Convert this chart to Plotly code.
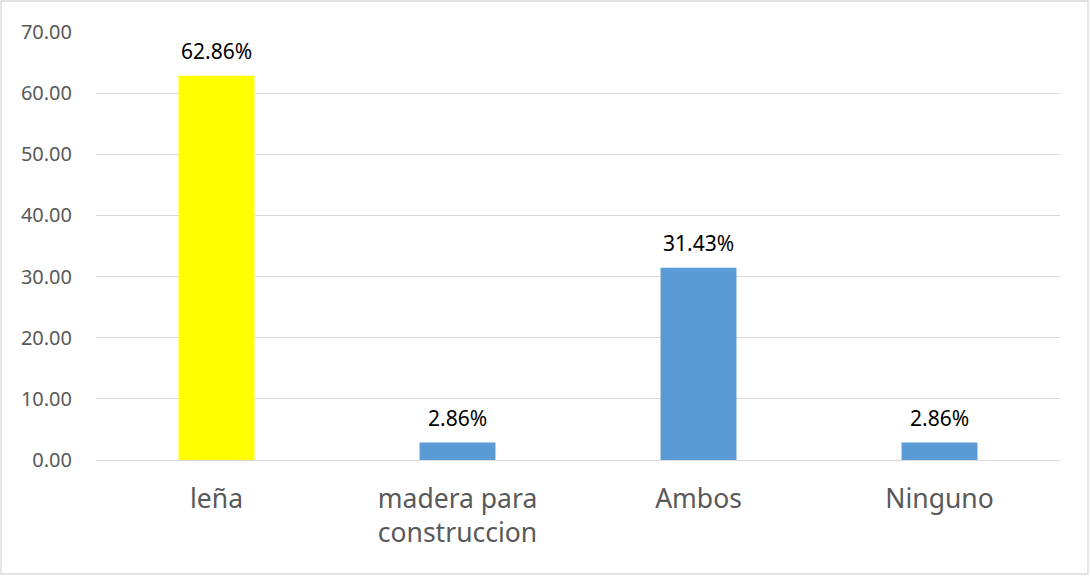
import plotly.graph_objects as go

categories = ["leña", "madera para<br>construccion", "Ambos", "Ninguno"]
values = [62.86, 2.86, 31.43, 2.86]
bar_colors = ["#FFFF00", "#5B9BD5", "#5B9BD5", "#5B9BD5"]
y_ticks = [0, 10, 20, 30, 40, 50, 60, 70]

W, H = 1090, 576
ml, mr, mt, mb = 96, 30, 32, 116
pw, ph = W - ml - mr, H - mt - mb

fig = go.Figure(go.Bar(
    x=categories, y=values,
    marker=dict(color=bar_colors, line=dict(width=0)),
    cliponaxis=False,
    width=0.315,
    hoverinfo="x+y",
))

for c, v in zip(categories, values):
    fig.add_annotation(
        x=c, y=v, text=f"{v:.2f}%", showarrow=False,
        yanchor="bottom", yshift=9,
        font=dict(size=21, color="#000000", family="Noto Sans"),
    )

fig.update_layout(
    width=W, height=H,
    margin=dict(l=ml, r=mr, t=mt, b=mb),
    paper_bgcolor="white", plot_bgcolor="white",
    showlegend=False,
    font=dict(family="Noto Sans", color="#595959"),
    xaxis=dict(
        tickfont=dict(size=26.5, color="#595959"),
        showline=False, showgrid=False,
        ticks="outside", ticklen=15, tickcolor="rgba(0,0,0,0)",
    ),
    yaxis=dict(
        range=[0, 70], tickvals=y_ticks, tickformat=".2f",
        tickfont=dict(size=20, color="#595959"),
        showgrid=True, gridcolor="#D9D9D9", gridwidth=1.3,
        zeroline=True, zerolinecolor="#D9D9D9", zerolinewidth=1.3,
        ticks="outside", ticklen=19, tickcolor="rgba(0,0,0,0)",
    ),
    shapes=[dict(
        type="rect", xref="paper", yref="paper",
        x0=(1 - ml) / pw, x1=(W - 2 - ml) / pw,
        y0=(H - mb - (H - 2)) / ph, y1=(H - mb - 1) / ph,
        line=dict(color="#D9D9D9", width=1.3), fillcolor="rgba(0,0,0,0)",
        layer="below",
    )],
)

fig.write_html(
    "out.html",
    config={"displayModeBar": False},
    post_script="document.body.style.margin='0';document.body.style.overflow='hidden';",
)
